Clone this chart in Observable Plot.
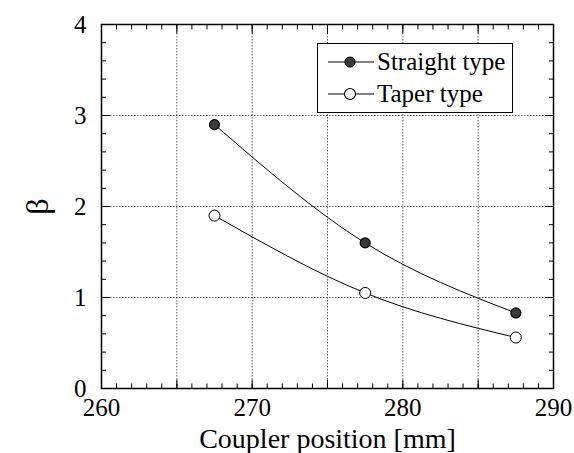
<!DOCTYPE html>
<html>
<head>
<meta charset="utf-8">
<script src="https://cdn.jsdelivr.net/npm/d3@7"></script>
<script src="https://cdn.jsdelivr.net/npm/@observablehq/plot@0.6"></script>
<style>
  body { margin: 0; background: white; position: relative; }
  #legend { position: absolute; left: 317px; top: 43px; width: 194px; height: 68px; border: 1.3px solid black; background: white; }
  .row { position: absolute; left: 0; height: 30px; display: flex; align-items: center; font-size: 25px; line-height: 30px; white-space: nowrap; }
  .row svg { margin-left: 10px; margin-right: 3px; }
</style>
</head>
<body>
<script>
// Data
const positions = [267.5, 277.5, 287.5];
const straightBeta = [2.9, 1.6, 0.83];
const taperBeta = [1.9, 1.05, 0.56];
const seriesNames = ["Straight type", "Taper type"];
const xTickLabels = [260, 270, 280, 290];
const yTickLabels = [0, 1, 2, 3, 4];
const xGrid = [265, 270, 275, 280, 285];
const yGrid = [1, 2, 3];
const xMajorTicks = [260, 265, 270, 275, 280, 285, 290];
const xMinorTicks = d3.range(260, 291, 1);
const yMajorTicks = [0, 1, 2, 3, 4];
const yMinorTicks = d3.range(0, 21).map(i => i / 5);
const xTitle = "Coupler position [mm]";
const yTitle = "β";

const straightRows = positions.map((x, i) => ({x, y: straightBeta[i]}));
const taperRows = positions.map((x, i) => ({x, y: taperBeta[i]}));

const noText = () => "";
const chart = Plot.plot({
  width: 574,
  height: 453,
  marginLeft: 101,
  marginRight: 21,
  marginTop: 24,
  marginBottom: 65,
  x: {domain: [260, 290]},
  y: {domain: [0, 4]},
  style: {fontFamily: "Liberation Serif", fontSize: "25px"},
  marks: [
    Plot.gridX(xGrid, {stroke: "#222", strokeOpacity: 0.9, strokeWidth: 0.8, strokeDasharray: "1.5,1.5"}),
    Plot.gridY(yGrid, {stroke: "#222", strokeOpacity: 0.9, strokeWidth: 0.8, strokeDasharray: "1.5,1.5"}),
    // inward minor ticks on all sides
    Plot.axisX(xMinorTicks, {anchor: "bottom", tickSize: -4.5, tickFormat: noText, label: null, strokeWidth: 1}),
    Plot.axisX(xMinorTicks, {anchor: "top", tickSize: -4.5, tickFormat: noText, label: null, strokeWidth: 1}),
    Plot.axisY(yMinorTicks, {anchor: "left", tickSize: -5, tickFormat: noText, label: null, strokeWidth: 1}),
    Plot.axisY(yMinorTicks, {anchor: "right", tickSize: -5, tickFormat: noText, label: null, strokeWidth: 1}),
    // inward major ticks
    Plot.axisX(xMajorTicks, {anchor: "bottom", tickSize: -8.5, tickFormat: noText, label: null, strokeWidth: 1}),
    Plot.axisX(xMajorTicks, {anchor: "top", tickSize: -8.5, tickFormat: noText, label: null, strokeWidth: 1}),
    Plot.axisY(yMajorTicks, {anchor: "left", tickSize: -9, tickFormat: noText, label: null, strokeWidth: 1}),
    Plot.axisY(yMajorTicks, {anchor: "right", tickSize: -9, tickFormat: noText, label: null, strokeWidth: 1}),
    // tick labels
    Plot.axisX(xTickLabels, {anchor: "bottom", tickSize: 0, tickPadding: 10, tickFormat: d => String(d), label: null}),
    Plot.axisY(yTickLabels, {anchor: "left", tickSize: 0, tickPadding: 15, tickFormat: d => String(d), label: null}),
    // axis titles
    Plot.axisX([], {anchor: "bottom", tickSize: 0, label: xTitle, labelAnchor: "center", labelArrow: "none", labelOffset: 59}),
    Plot.axisY([], {anchor: "left", tickSize: 0, label: yTitle, labelAnchor: "center", labelArrow: "none", labelOffset: 76}),
    Plot.frame({stroke: "black", strokeWidth: 1.5}),
    Plot.line(straightRows, {x: "x", y: "y", curve: "natural", stroke: "black", strokeWidth: 1}),
    Plot.line(taperRows, {x: "x", y: "y", curve: "natural", stroke: "black", strokeWidth: 1}),
    Plot.dot(straightRows, {x: "x", y: "y", r: 5, fill: "#3a3a3a", stroke: "black", strokeWidth: 1.2}),
    Plot.dot(taperRows, {x: "x", y: "y", r: 5.5, fill: "white", stroke: "black", strokeWidth: 1})
  ]
});
document.body.appendChild(chart);

// larger titles
d3.select(chart).selectAll("text").filter(function() { return this.textContent === xTitle; }).style("font-size", "28px");
d3.select(chart).selectAll("text").filter(function() { return this.textContent === yTitle; }).style("font-size", "32px");

// Legend
const legend = document.createElement("div");
legend.id = "legend";
legend.style.fontFamily = "'Liberation Serif'";
const markers = [
  {fill: "#3a3a3a", r: 5},
  {fill: "white", r: 5.5}
];
seriesNames.forEach((name, i) => {
  const row = document.createElement("div");
  row.className = "row";
  row.style.top = (i === 0 ? 3 : 35) + "px";
  row.innerHTML = `<svg width="46" height="14" viewBox="0 0 46 14"><line x1="0" y1="7" x2="46" y2="7" stroke="black" stroke-width="1"/><circle cx="22" cy="7" r="${markers[i].r}" fill="${markers[i].fill}" stroke="black" stroke-width="1.1"/></svg>`;
  const span = document.createElement("span");
  span.style.fontFamily = "'Liberation Serif'";
  span.textContent = name;
  row.appendChild(span);
  legend.appendChild(row);
});
document.body.appendChild(legend);
</script>
</body>
</html>
